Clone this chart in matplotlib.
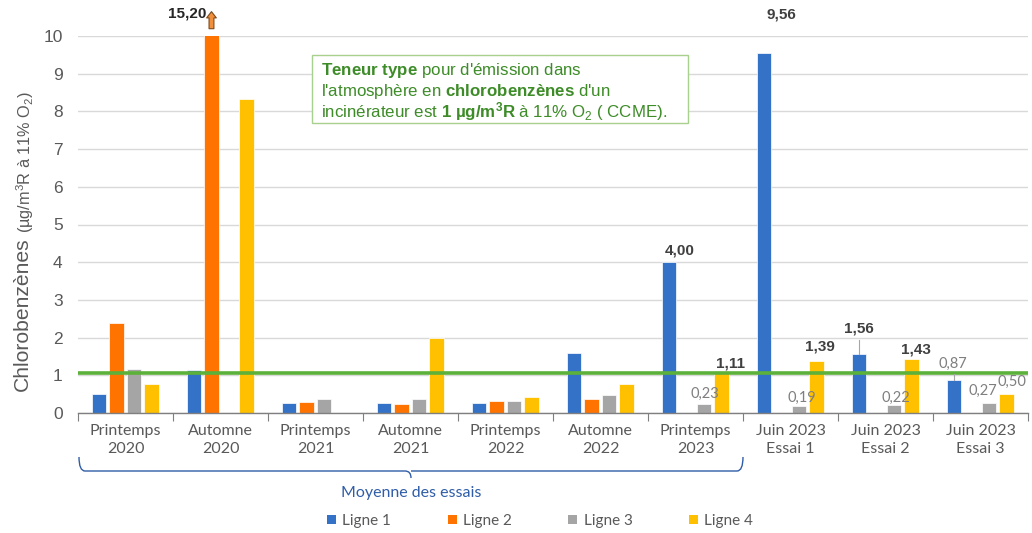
import matplotlib
matplotlib.use('Agg')
import matplotlib.pyplot as plt
import numpy as np
from matplotlib.path import Path
from matplotlib.patches import PathPatch, Rectangle, Patch

plt.rcParams['mathtext.fontset'] = 'custom'
plt.rcParams['mathtext.rm'] = 'Liberation Sans'
plt.rcParams['mathtext.bf'] = 'Liberation Sans:bold'
plt.rcParams['mathtext.it'] = 'Liberation Sans:italic'

# ---------------- data ----------------
categories = ["Printemps\n2020", "Automne\n2020", "Printemps\n2021", "Automne\n2021",
              "Printemps\n2022", "Automne\n2022", "Printemps\n2023",
              "Juin 2023\nEssai 1", "Juin 2023\nEssai 2", "Juin 2023\nEssai 3"]
series_names = ["Ligne 1", "Ligne 2", "Ligne 3", "Ligne 4"]
ligne1 = [0.50, 1.15, 0.27, 0.27, 0.27, 1.60, 4.00, 9.56, 1.56, 0.87]
ligne2 = [2.40, 15.20, 0.30, 0.23, 0.33, 0.38, None, None, None, None]
ligne3 = [1.18, None, 0.38, 0.37, 0.33, 0.48, 0.23, 0.19, 0.22, 0.27]
ligne4 = [0.78, 8.33, None, 2.00, 0.42, 0.76, 1.11, 1.39, 1.43, 0.50]
reference_value = 1.05
y_ticks = list(range(0, 11))
group_label = "Moyenne des essais"

# labels: (series index, category index, bold, dx px, dy px)
label_specs = [
    (0, 7, True, 17, 38),
    (0, 6, True, 11, 12),
    (3, 6, True, 9, 8),
    (3, 7, True, 3, 14),
    (0, 8, True, 0, 26),
    (3, 8, True, 4, 10),
    (2, 6, False, 1, 10),
    (2, 7, False, 3, 8),
    (2, 8, False, 2, 7),
    (0, 9, False, -1, 16),
    (2, 9, False, -6, 12),
    (3, 9, False, 5, 12),
]
leaders = [(0, 8, 14), (0, 9, 6)]

colors = ['#3472c8', '#ff7300', '#a5a5a5', '#ffc000']
series = [ligne1, ligne2, ligne3, ligne4]

W, H = 1032, 533
fig = plt.figure(figsize=(W / 100, H / 100), dpi=100)
ax = fig.add_axes([78 / W, 120 / H, (1028 - 78) / W, (413 - 36) / H])

xc = np.arange(len(categories)) + 0.5
offsets = [-0.279, -0.095, 0.089, 0.274]
bw = 0.15

for s, (vals, off, col) in enumerate(zip(series, offsets, colors)):
    xs = [xc[i] + off for i, v in enumerate(vals) if v is not None]
    hs = [v for v in vals if v is not None]
    ax.bar(xs, hs, bw, color=col, edgecolor='white', linewidth=0.5, zorder=2)

ax.set_xlim(0, 10)
ax.set_ylim(0, 10)
ax.set_yticks(y_ticks)
ax.set_yticklabels([str(t) for t in y_ticks], fontsize=12.5, color='#595959',
                   family='Liberation Sans')
ax.tick_params(axis='y', length=0, pad=11)
ax.grid(axis='y', color='#d9d9d9', lw=1)
ax.set_axisbelow(True)
for sp in ['left', 'right', 'top']:
    ax.spines[sp].set_visible(False)
ax.spines['bottom'].set_color('#7f7f7f')
ax.spines['bottom'].set_linewidth(1)

ax.set_xticks(np.arange(0, 11))
ax.set_xticklabels([])
ax.tick_params(axis='x', which='major', length=6, color='#7f7f7f', direction='out')
ax.set_xticks(xc, minor=True)
ax.set_xticklabels(categories, minor=True, fontsize=11.5, color='#595959',
                   family='Lato', linespacing=1.35)
ax.tick_params(axis='x', which='minor', length=0, pad=8)

ax.axhline(reference_value, color='#5cb13a', lw=2.6, zorder=3)

# data labels
for s, i, bold, dx, dy in label_specs:
    v = series[s][i]
    txt = f"{v:.2f}".replace('.', ',')
    ax.annotate(txt, xy=(xc[i] + offsets[s], v), xytext=(dx, dy),
                textcoords='offset pixels', ha='center', va='center',
                fontsize=11 if bold else 10.5,
                fontweight='bold' if bold else 'normal',
                color='#404040' if bold else '#7f7f7f',
                family='Liberation Sans' if bold else 'Lato',
                annotation_clip=False, zorder=5)
for s, i, length in leaders:
    v = series[s][i]
    xx = xc[i] + offsets[s]
    ax.plot([xx, xx], [v, v + length / 37.7], color='#a6a6a6', lw=0.8,
            clip_on=False, zorder=4)

# clipped value 15,20 with arrow
xo = xc[1] + offsets[1]
v = ligne2[1]
ax.annotate(f"{v:.2f}".replace('.', ','), xy=(xo, 10), xytext=(-5, 22),
            textcoords='offset pixels', ha='right', va='center', fontsize=11,
            fontweight='bold', color='#262626', family='Liberation Sans',
            annotation_clip=False)
ax.annotate('', xy=(xo, 10.72), xytext=(xo, 10.12),
            arrowprops=dict(arrowstyle='simple,head_length=0.45,head_width=0.7,tail_width=0.35',
                            fc='#f0903c', ec='#7f4a1a', lw=0.8),
            annotation_clip=False)

# y label
fig.text(22 / W, 1 - 391 / H, "Chlorobenzènes", rotation=90, ha='center', va='bottom',
         fontsize=15.2, color='#595959', family='Liberation Sans')
fig.text(25 / W, 1 - 233 / H, r"(µg/m$^3$R à 11% O$_2$)", rotation=90, ha='center',
         va='bottom', fontsize=11.7, color='#595959', family='Liberation Sans')

# annotation box
green = '#3d8c28'
fig.patches.append(Rectangle((312 / W, 1 - 123 / H), (688 - 312) / W, (123 - 55) / H,
                             transform=fig.transFigure, fc='white', ec='#a9d18e',
                             lw=1, zorder=5))
box_lines = [r"$\mathbf{Teneur\ type}$ pour d'émission dans",
             r"l'atmosphère en $\mathbf{chlorobenzènes}$ d'un",
             r"incinérateur est $\mathbf{1\ µg/m^3R}$ à 11% O$_2$ ( CCME)."]
for k, line in enumerate(box_lines):
    fig.text(321 / W, 1 - (71 + 20.5 * k) / H, line, ha='left', va='center',
             fontsize=12.2, color=green, family='Liberation Sans', zorder=6)

# bracket under first seven categories
blue = '#2f5da8'
def fy(py):
    return 1 - py / H
xl, xr, xm = 79 / W, 743 / W, 411 / W
r = 6 / W
verts = [(xl, fy(457)), (xl, fy(471)), (xl + r, fy(471)),
         (xm - r, fy(471)), (xm, fy(471)), (xm, fy(478)),
         (xm, fy(471)), (xm + r, fy(471)),
         (xr - r, fy(471)), (xr, fy(471)), (xr, fy(457))]
codes = [Path.MOVETO, Path.CURVE3, Path.CURVE3,
         Path.LINETO, Path.CURVE3, Path.CURVE3,
         Path.MOVETO, Path.LINETO,
         Path.LINETO, Path.CURVE3, Path.CURVE3]
fig.patches.append(PathPatch(Path(verts, codes), transform=fig.transFigure,
                             fc='none', ec=blue, lw=1))
fig.text(xm, fy(493), group_label, ha='center', va='center', fontsize=11.5,
         color=blue, family='Lato')

# legend
handles = [Patch(facecolor=c, edgecolor='none') for c in colors]
fig.legend(handles, series_names, loc='center', bbox_to_anchor=(540 / W, fy(521)),
           ncol=4, frameon=False, handlelength=0.6, handleheight=0.6,
           handletextpad=0.4, columnspacing=3.7,
           prop={'family': 'Lato', 'size': 11}, labelcolor='#595959')

fig.savefig('out.png', dpi=100)
